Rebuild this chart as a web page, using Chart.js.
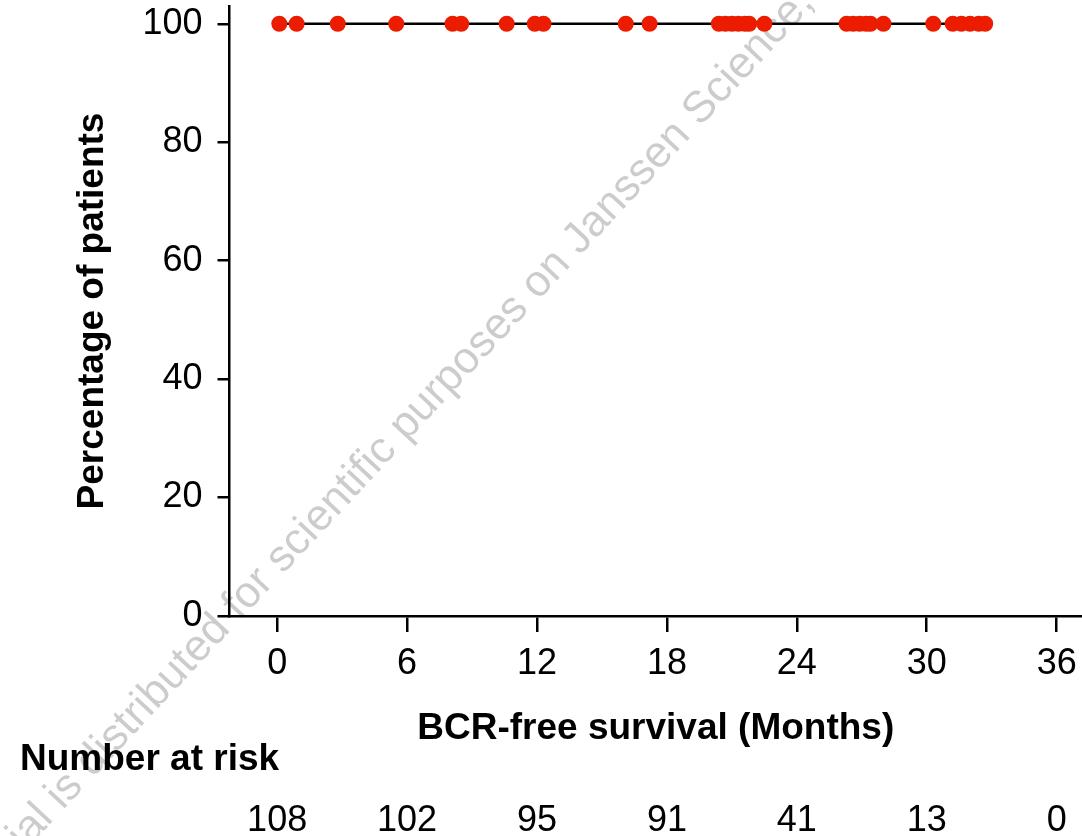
<!DOCTYPE html>
<html>
<head>
<meta charset="utf-8">
<script src="https://cdn.jsdelivr.net/npm/chart.js@4/dist/chart.umd.min.js"></script>
<style>
  html, body { margin: 0; padding: 0; background: #fff; }
  #wrap { width: 1082px; height: 836px; }
</style>
</head>
<body>
<div id="wrap"><canvas id="km" width="1082" height="836"></canvas></div>
<script>
// values
const xTicks = [0, 6, 12, 18, 24, 30, 36];
const yTicks = [0, 20, 40, 60, 80, 100];
const kmTimes = [0, 32.7];
const kmSurvival = [100, 100];
const censorTimes = [0.1, 0.9, 2.8, 5.5, 8.1, 8.5, 10.6, 11.9, 12.3, 16.1, 17.2,
  20.4, 20.7, 21.0, 21.3, 21.6, 21.8, 22.5, 26.3, 26.6, 26.9, 27.2, 27.4, 28.0,
  30.3, 31.2, 31.6, 32.0, 32.4, 32.7];
const riskCounts = [108, 102, 95, 91, 41, 13, 0];

const FONT = "'Liberation Sans', Arial, sans-serif";

const watermark = {
  id: 'watermark',
  beforeDraw(chart) {
    const ctx = chart.ctx;
    ctx.save();
    ctx.font = `44px ${FONT}`;
    ctx.fillStyle = 'rgba(0,0,0,0.2)';
    ctx.textBaseline = 'middle';
    ctx.translate(84, 770);
    ctx.rotate(-47 * Math.PI / 180);
    const pre = 'This material is ';
    ctx.fillText(pre + 'distributed for scientific purposes on Janssen Science, a service', -ctx.measureText(pre).width, 0);
    ctx.restore();
  }
};

const riskTable = {
  id: 'riskTable',
  afterDraw(chart) {
    const ctx = chart.ctx;
    const x = chart.scales.x;
    ctx.save();
    ctx.fillStyle = '#000';
    ctx.textBaseline = 'middle';
    ctx.font = `bold 37px ${FONT}`;
    ctx.textAlign = 'left';
    ctx.fillText('Number at risk', 20, 760);
    ctx.font = `36px ${FONT}`;
    ctx.textAlign = 'center';
    xTicks.forEach((t, i) => {
      ctx.fillText(String(riskCounts[i]), x.getPixelForValue(t), 821);
    });
    ctx.restore();
  }
};

new Chart(document.getElementById('km'), {
  type: 'scatter',
  data: {
    datasets: [
      {
        label: 'KM',
        type: 'line',
        data: kmTimes.map((t, i) => ({ x: t, y: kmSurvival[i] })),
        borderColor: '#000',
        borderWidth: 2.5,
        pointRadius: 0,
        stepped: true,
        order: 2,
      },
      {
        label: 'Censored',
        data: censorTimes.map(t => ({ x: t, y: 100 })),
        backgroundColor: '#ec1c00',
        borderColor: '#ec1c00',
        borderWidth: 0,
        pointRadius: 8,
        order: 1,
      },
    ],
  },
  options: {
    responsive: false,
    animation: false,
    events: [],
    layout: { autoPadding: false, padding: { top: 6, left: 0, right: 0, bottom: 0 } },
    plugins: { legend: { display: false }, tooltip: { enabled: false } },
    scales: {
      x: {
        type: 'linear',
        position: 'bottom',
        min: -2.2,
        max: 37.17,
        afterBuildTicks: s => { s.ticks = xTicks.map(v => ({ value: v })); },
        afterFit: s => { s.height = 220; s.paddingLeft = 0; s.paddingRight = 0; },
        border: { display: true, color: '#000', width: 2.5 },
        grid: { drawOnChartArea: false, drawTicks: true, tickLength: 16, color: '#000', lineWidth: 2.5 },
        ticks: { color: '#000', font: { family: FONT, size: 36 }, padding: 10, maxRotation: 0 },
        title: {
          display: true,
          text: 'BCR-free survival (Months)',
          color: '#000',
          font: { family: FONT, size: 37, weight: 'bold' },
          padding: { top: 0, bottom: 85 },
        },
      },
      y: {
        type: 'linear',
        min: 0,
        max: 103,
        afterBuildTicks: s => { s.ticks = yTicks.map(v => ({ value: v })); },
        afterFit: s => { s.width = 229.5; s.paddingTop = 0; s.paddingBottom = 0; },
        border: { display: true, color: '#000', width: 2.5 },
        grid: { drawOnChartArea: false, drawTicks: true, tickLength: 12, color: '#000', lineWidth: 2.5 },
        ticks: { color: '#000', font: { family: FONT, size: 36 }, padding: 15 },
        title: {
          display: true,
          text: 'Percentage of patients',
          color: '#000',
          font: { family: FONT, size: 37, weight: 'bold' },
          padding: { top: 71, bottom: 0 },
        },
      },
    },
  },
  plugins: [watermark, riskTable],
});
</script>
</body>
</html>
